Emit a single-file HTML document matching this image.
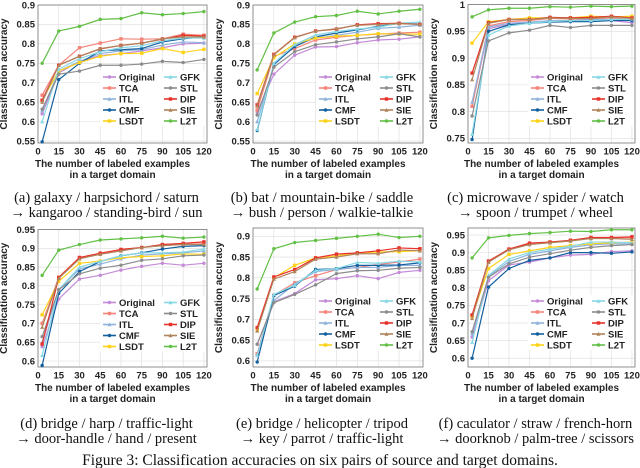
<!DOCTYPE html>
<html><head><meta charset="utf-8"><style>
html,body{margin:0;padding:0;background:#fff}
svg{display:block}
.tk{font:bold 9.5px "Liberation Sans",sans-serif;fill:#222}
.at{font:bold 10px "Liberation Sans",sans-serif;fill:#222}
.lg{font:bold 9.5px "Liberation Sans",sans-serif;fill:#222}
.cap{font:14.5px "Liberation Serif",serif;fill:#111}
.fcap{font:15.5px "Liberation Serif",serif;fill:#111}
</style></head><body>
<svg id="fig" width="640" height="468" viewBox="0 0 640 468" xmlns="http://www.w3.org/2000/svg"></svg>
<script>
const xVals=[3,15,30,45,60,75,90,105,120];
const xTicks=[0,15,30,45,60,75,90,105,120];
const seriesNames=["Original","TCA","ITL","CMF","LSDT","GFK","STL","DIP","SIE","L2T"];
const seriesColors=["#c48ad8","#f4847a","#8fb2dc","#135f9e","#ffd21a","#86d8e4","#8c8c8c","#e8312a","#b0845c","#62c046"];
// panel a
const aOriginal=[0.62,0.725,0.755,0.77,0.775,0.782,0.79,0.80,0.802];
const aTCA=[0.668,0.745,0.79,0.802,0.813,0.812,0.813,0.825,0.822];
const aITL=[0.628,0.73,0.755,0.775,0.782,0.785,0.797,0.805,0.803];
const aCMF=[0.548,0.708,0.75,0.782,0.785,0.788,0.805,0.813,0.818];
const aLSDT=[0.655,0.73,0.752,0.768,0.775,0.776,0.788,0.778,0.786];
const aGFK=[0.60,0.735,0.762,0.78,0.79,0.795,0.808,0.815,0.815];
const aSTL=[0.632,0.722,0.73,0.745,0.745,0.748,0.755,0.752,0.76];
const aDIP=[0.655,0.745,0.768,0.787,0.796,0.802,0.812,0.822,0.82];
const aSIE=[0.65,0.745,0.768,0.788,0.796,0.802,0.813,0.818,0.818];
const aL2T=[0.75,0.833,0.845,0.863,0.865,0.88,0.875,0.878,0.883];
// panel b
const bOriginal=[0.625,0.722,0.771,0.792,0.793,0.803,0.81,0.812,0.818];
const bTCA=[0.63,0.768,0.788,0.81,0.817,0.822,0.825,0.828,0.83];
const bITL=[0.6,0.745,0.795,0.815,0.822,0.83,0.84,0.843,0.848];
const bCMF=[0.577,0.748,0.793,0.818,0.828,0.836,0.845,0.853,0.851];
const bLSDT=[0.672,0.765,0.8,0.815,0.82,0.822,0.826,0.825,0.825];
const bGFK=[0.58,0.75,0.798,0.823,0.832,0.838,0.843,0.853,0.856];
const bSTL=[0.617,0.74,0.78,0.798,0.805,0.813,0.818,0.826,0.818];
const bDIP=[0.643,0.773,0.817,0.833,0.838,0.849,0.852,0.853,0.85];
const bSIE=[0.64,0.772,0.816,0.833,0.839,0.848,0.85,0.852,0.85];
const bL2T=[0.733,0.828,0.856,0.87,0.873,0.884,0.877,0.884,0.889];
// panel c
const cOriginal=[0.81,0.955,0.963,0.965,0.97,0.968,0.97,0.97,0.966];
const cTCA=[0.81,0.96,0.968,0.97,0.974,0.973,0.973,0.975,0.972];
const cITL=[0.818,0.958,0.965,0.967,0.97,0.97,0.972,0.972,0.97];
const cCMF=[0.748,0.95,0.962,0.965,0.967,0.968,0.968,0.97,0.97];
const cLSDT=[0.928,0.968,0.972,0.975,0.975,0.975,0.978,0.977,0.978];
const cGFK=[0.758,0.943,0.96,0.965,0.968,0.97,0.97,0.972,0.973];
const cSTL=[0.792,0.932,0.947,0.952,0.961,0.957,0.961,0.961,0.961];
const cDIP=[0.872,0.966,0.972,0.972,0.976,0.975,0.976,0.978,0.975];
const cSIE=[0.86,0.965,0.972,0.972,0.975,0.974,0.974,0.977,0.974];
const cL2T=[0.977,0.99,0.993,0.993,0.996,0.995,0.997,0.996,0.997];
// panel d
const dOriginal=[0.638,0.765,0.818,0.828,0.842,0.852,0.86,0.855,0.86];
const dTCA=[0.70,0.823,0.876,0.886,0.895,0.902,0.908,0.91,0.912];
const dITL=[0.65,0.79,0.845,0.858,0.872,0.882,0.885,0.888,0.893];
const dCMF=[0.588,0.78,0.838,0.865,0.88,0.888,0.898,0.905,0.907];
const dLSDT=[0.723,0.812,0.86,0.866,0.875,0.878,0.88,0.885,0.884];
const dGFK=[0.615,0.79,0.85,0.865,0.88,0.888,0.888,0.89,0.898];
const dSTL=[0.665,0.79,0.832,0.847,0.855,0.868,0.872,0.88,0.882];
const dDIP=[0.645,0.822,0.875,0.887,0.897,0.902,0.91,0.913,0.917];
const dSIE=[0.69,0.82,0.872,0.884,0.893,0.902,0.907,0.91,0.91];
const dL2T=[0.828,0.895,0.91,0.922,0.925,0.928,0.932,0.927,0.93];
// panel e
const eOriginal=[0.64,0.742,0.762,0.795,0.798,0.805,0.798,0.813,0.818];
const eTCA=[0.617,0.758,0.788,0.805,0.82,0.825,0.832,0.838,0.845];
const eITL=[0.615,0.745,0.785,0.815,0.82,0.825,0.825,0.83,0.83];
const eCMF=[0.597,0.757,0.78,0.82,0.822,0.83,0.83,0.831,0.836];
const eLSDT=[0.675,0.8,0.83,0.848,0.853,0.86,0.862,0.863,0.865];
const eGFK=[0.613,0.76,0.782,0.818,0.822,0.837,0.835,0.84,0.838];
const eSTL=[0.64,0.74,0.76,0.783,0.81,0.817,0.818,0.823,0.825];
const eDIP=[0.68,0.802,0.82,0.848,0.857,0.86,0.865,0.872,0.87];
const eSIE=[0.672,0.797,0.815,0.845,0.85,0.858,0.858,0.867,0.865];
const eL2T=[0.773,0.87,0.885,0.89,0.895,0.9,0.905,0.897,0.9];
// panel f
const fOriginal=[0.66,0.82,0.865,0.873,0.885,0.893,0.895,0.903,0.905];
const fTCA=[0.72,0.873,0.91,0.925,0.93,0.935,0.942,0.942,0.943];
const fITL=[0.67,0.832,0.875,0.895,0.905,0.915,0.922,0.925,0.925];
const fCMF=[0.6,0.802,0.855,0.878,0.885,0.9,0.9,0.898,0.902];
const fLSDT=[0.718,0.855,0.895,0.905,0.915,0.92,0.925,0.928,0.93];
const fGFK=[0.645,0.835,0.882,0.9,0.91,0.918,0.93,0.93,0.928];
const fSTL=[0.675,0.83,0.868,0.887,0.897,0.907,0.915,0.92,0.923];
const fDIP=[0.723,0.876,0.91,0.927,0.93,0.935,0.943,0.943,0.945];
const fSIE=[0.713,0.873,0.908,0.923,0.928,0.933,0.94,0.94,0.938];
const fL2T=[0.885,0.942,0.949,0.954,0.957,0.961,0.96,0.965,0.965];
const aYTicks=[0.55,0.6,0.65,0.7,0.75,0.8,0.85,0.9];
const bYTicks=[0.55,0.6,0.65,0.7,0.75,0.8,0.85,0.9];
const cYTicks=[0.75,0.8,0.85,0.9,0.95,1];
const dYTicks=[0.6,0.65,0.7,0.75,0.8,0.85,0.9,0.95];
const eYTicks=[0.6,0.65,0.7,0.75,0.8,0.85,0.9];
const fYTicks=[0.6,0.65,0.7,0.75,0.8,0.85,0.9,0.95];
const captions=[["(a) galaxy / harpsichord / saturn","→ kangaroo / standing-bird / sun"],
["(b) bat / mountain-bike / saddle","→ bush / person / walkie-talkie"],
["(c) microwave / spider / watch","→ spoon / trumpet / wheel"],
["(d) bridge / harp / traffic-light","→ door-handle / hand / present"],
["(e) bridge / helicopter / tripod","→ key / parrot / traffic-light"],
["(f) caculator / straw / french-horn","→ doorknob / palm-tree / scissors"]];

const panels=[
 {id:"a",L:38,R:207,T:5,B:143,y0:0.545,y1:0.9,ticks:aYTicks,data:[aOriginal,aTCA,aITL,aCMF,aLSDT,aGFK,aSTL,aDIP,aSIE,aL2T]},
 {id:"b",L:253,R:423,T:5,B:143,y0:0.545,y1:0.9,ticks:bYTicks,data:[bOriginal,bTCA,bITL,bCMF,bLSDT,bGFK,bSTL,bDIP,bSIE,bL2T]},
 {id:"c",L:468,R:635,T:4.5,B:143,y0:0.7415,y1:1,ticks:cYTicks,data:[cOriginal,cTCA,cITL,cCMF,cLSDT,cGFK,cSTL,cDIP,cSIE,cL2T]},
 {id:"d",L:38,R:207,T:229.5,B:367,y0:0.584,y1:0.95,ticks:dYTicks,data:[dOriginal,dTCA,dITL,dCMF,dLSDT,dGFK,dSTL,dDIP,dSIE,dL2T]},
 {id:"e",L:253,R:423,T:228,B:367,y0:0.585,y1:0.92,ticks:eYTicks,data:[eOriginal,eTCA,eITL,eCMF,eLSDT,eGFK,eSTL,eDIP,eSIE,eL2T]},
 {id:"f",L:468,R:635,T:228,B:367,y0:0.575,y1:0.97,ticks:fYTicks,data:[fOriginal,fTCA,fITL,fCMF,fLSDT,fGFK,fSTL,fDIP,fSIE,fL2T]}
];
const NS="http://www.w3.org/2000/svg";
const svg=document.getElementById("fig");
function mk(tag,attrs,parent,text){const e=document.createElementNS(NS,tag);for(const k in attrs)e.setAttribute(k,attrs[k]);if(text!==undefined)e.textContent=text;(parent||svg).appendChild(e);return e;}
function marker(g,k,x,y,c){
  const s=1.7;
  if(k%3===0){mk("circle",{cx:x,cy:y,r:s,fill:c},g);}
  else if(k%3===1){mk("rect",{x:x-s,y:y-s,width:2*s,height:2*s,fill:c},g);}
  else {mk("path",{d:`M${x} ${y-s-0.4}L${x+s+0.3} ${y+s}L${x-s-0.3} ${y+s}Z`,fill:c},g);}
}
panels.forEach((p,pi)=>{
  const g=mk("g",{});
  
  
  const X=v=>p.L+ v/121.5*(p.R-p.L-1);
  const Y=v=>p.B-(v-p.y0)/(p.y1-p.y0)*(p.B-p.T);
  xTicks.forEach(t=>{mk("line",{x1:X(t),x2:X(t),y1:p.T,y2:p.B,stroke:"#dcdcdc","stroke-width":0.6},g);});
  p.ticks.forEach(t=>{mk("line",{x1:p.L,x2:p.R,y1:Y(t),y2:Y(t),stroke:"#dcdcdc","stroke-width":0.6},g);});
  const box=mk("rect",{x:p.L,y:p.T,width:p.R-p.L,height:p.B-p.T,fill:"none",stroke:"#777","stroke-width":0.8},g);
  
  
  const yt=mk("g",{},g);
  
  
  p.ticks.forEach(t=>{mk("text",{x:p.L-3,y:Y(t)+3.3,"text-anchor":"end",class:"tk"},yt,String(t));});
  const xt=mk("g",{},g);
  
  
  xTicks.forEach(t=>{mk("text",{x:X(t),y:p.B+11.5,"text-anchor":"middle",class:"tk"},xt,String(t));});
  const ya=mk("text",{x:0,y:0,class:"at","text-anchor":"middle",transform:`translate(${p.L-31},${(p.T+p.B)/2}) rotate(-90)`},g,"Classification accuracy");
  
  
  const ax=(p.L+p.R)/2-10;
  const xa=mk("text",{x:ax,y:p.B+24,class:"at","text-anchor":"middle"},g);
  
  
  mk("tspan",{x:ax,dy:0},xa,"The number of labeled examples");
  mk("tspan",{x:ax,dy:11},xa,"in a target domain");
  p.data.forEach((arr,si)=>{
    const sg=mk("g",{},g);
    
    
    const c=seriesColors[si];
    mk("polyline",{points:arr.map((v,i)=>X(xVals[i])+","+Y(v)).join(" "),fill:"none",stroke:c,"stroke-width":1.2},sg);
    arr.forEach((v,i)=>marker(sg,si,X(xVals[i]),Y(v),c));
  });
  const lx=p.R-107, ly=(pi<3?77:p.T+73);
  const lg=mk("g",{},g);
  
  
  mk("rect",{x:lx,y:ly-6,width:106,height:55,fill:"#fff"},lg);
  seriesNames.forEach((n,si)=>{
    const col=Math.floor(si/5), row=si%5;
    const ex=lx+3+col*61, ey=ly+row*11;
    const le=mk("g",{},lg);
    
    
    mk("line",{x1:ex,x2:ex+13,y1:ey,y2:ey,stroke:seriesColors[si],"stroke-width":1.6},le);
    marker(le,si,ex+6.5,ey,seriesColors[si]);
    mk("text",{x:ex+16,y:ey+3.3,class:"lg"},le,n);
  });
  const cx=(p.L+p.R)/2-16, cy=(pi<3?202:428);
  const cp=mk("text",{x:cx,y:cy,class:"cap","text-anchor":"middle"},g);
  
  
  mk("tspan",{x:cx,dy:0},cp,captions[pi][0]);
  mk("tspan",{x:cx,dy:15},cp,captions[pi][1]);
});
const fc=mk("text",{x:320,y:465,class:"fcap","text-anchor":"middle"});


fc.textContent="Figure 3: Classification accuracies on six pairs of source and target domains.";
</script>
</body></html>
